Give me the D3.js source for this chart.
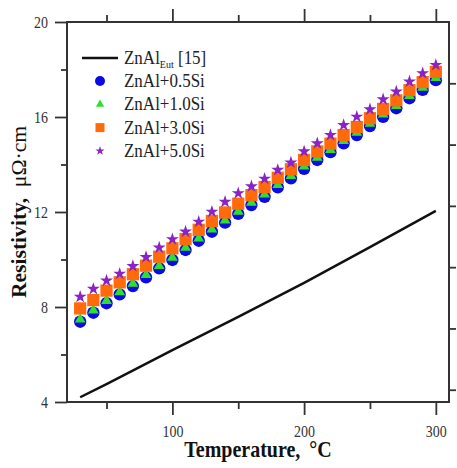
<!DOCTYPE html>
<html>
<head>
<meta charset="utf-8">
<script src="https://cdn.jsdelivr.net/npm/d3@7/dist/d3.min.js"></script>
<style>
body{margin:0;background:#fff;}
svg text{font-family:"Liberation Serif","Times New Roman",serif;}
</style>
</head>
<body>
<script>
// temperatures of the measured points (deg C)
let temps=[30,40,50,60,70,80,90,100,110,120,130,140,150,160,170,180,190,200,210,220,230,240,250,260,270,280,290,300];
// resistivity, micro-ohm cm
let si05=[7.38,7.76,8.16,8.53,8.88,9.25,9.63,9.98,10.40,10.79,11.17,11.55,11.92,12.29,12.64,13.04,13.42,13.82,14.19,14.52,14.89,15.24,15.62,16.01,16.37,16.79,17.14,17.55];
let si10=[7.48,7.86,8.26,8.63,8.98,9.35,9.73,10.08,10.50,10.89,11.27,11.65,12.02,12.39,12.74,13.14,13.52,13.92,14.29,14.62,14.99,15.34,15.72,16.11,16.47,16.89,17.24,17.65];
let si30=[7.94,8.29,8.69,9.04,9.38,9.74,10.12,10.47,10.86,11.25,11.62,11.98,12.35,12.71,13.05,13.44,13.80,14.19,14.55,14.88,15.24,15.58,15.95,16.34,16.70,17.13,17.47,17.90];
let si50=[8.43,8.76,9.11,9.40,9.72,10.10,10.50,10.85,11.17,11.59,12.01,12.43,12.79,13.08,13.40,13.77,14.08,14.55,14.89,15.24,15.66,16.01,16.32,16.74,17.07,17.49,17.84,18.19];
// eutectic reference curve [15]
let eutT=[30,50,100,150,200,250,300];
let eutR=[4.20,4.75,6.18,7.58,9.02,10.52,12.05];

let xMajor=[100,200,300],xMinor=[50,150,250];
let yMajor=[4,8,12,16,20],yMinor=[6,10,14,18];
let rightTicks=[0,1,2,3,4,5];

const W=457,H=468;
let m={l:67,r:449,t:22,b:402};
let x=d3.scaleLinear().domain([20,310]).range([m.l,m.r]);
let y=d3.scaleLinear().domain([4,20]).range([m.b,m.t]);
let y2=d3.scaleLinear().domain([-0.2,6]).range([m.b,m.t]);

let svg=d3.select("body").append("svg").attr("width",W).attr("height",H);

// the source picture is a bit taller than wide, so text gets stretched upright
function stretch(sel,k){
    sel.each(function(){
        let t=d3.select(this);
        let tx=+t.attr("x")||0,ty=+t.attr("y")||0;
        t.attr("x",0).attr("y",0).attr("transform",`translate(${tx},${ty}) scale(1,${k})`);
    });
}

// axes, ticks outward
let axisColor="#333";
function drawAxis(axis,tr){
    let g=svg.append("g").attr("transform",tr).call(axis)
        .attr("font-family","Liberation Serif").attr("font-size",14);
    g.select(".domain").remove();
    g.selectAll("line").attr("stroke",axisColor).attr("stroke-width",1.8);
    g.selectAll("text").attr("fill","#333");
    stretch(g.selectAll("text"),1.18);
    return g;
}
drawAxis(d3.axisBottom(x).tickValues(xMajor).tickSize(13).tickPadding(10).tickFormat(d3.format("d")),`translate(0,${m.b})`);
drawAxis(d3.axisBottom(x).tickValues(xMinor).tickSize(7).tickFormat(""),`translate(0,${m.b})`);
drawAxis(d3.axisTop(x).tickValues(xMajor).tickSize(13).tickFormat(""),`translate(0,${m.t})`);
drawAxis(d3.axisTop(x).tickValues(xMinor).tickSize(7).tickFormat(""),`translate(0,${m.t})`);
drawAxis(d3.axisLeft(y).tickValues(yMajor).tickSize(12).tickPadding(7).tickFormat(d3.format("d")),`translate(${m.l},0)`);
drawAxis(d3.axisLeft(y).tickValues(yMinor).tickSize(6).tickFormat(""),`translate(${m.l},0)`);
drawAxis(d3.axisRight(y2).tickValues(rightTicks).tickSize(7).tickFormat(""),`translate(${m.r},0)`);

svg.append("rect").attr("x",m.l).attr("y",m.t).attr("width",m.r-m.l).attr("height",m.b-m.t)
    .attr("fill","none").attr("stroke",axisColor).attr("stroke-width",2);

// eutectic line
let line=d3.line().x(d=>x(d[0])).y(d=>y(d[1]));
svg.append("path").datum(d3.zip(eutT,eutR)).attr("d",line)
    .attr("fill","none").attr("stroke","#111").attr("stroke-width",2.5);

let series=[
    {name:"ZnAl+0.5Si",vals:si05,type:d3.symbolCircle,size:120,lsize:78,color:"#0a0ae6"},
    {name:"ZnAl+1.0Si",vals:si10,type:d3.symbolTriangle,size:50,lsize:30,color:"#2ee02e"},
    {name:"ZnAl+3.0Si",vals:si30,type:d3.symbolSquare,size:150,lsize:81,color:"#ff6a0a"},
    {name:"ZnAl+5.0Si",vals:si50,type:d3.symbolStar,size:52,lsize:26,color:"#8a22c8"}
];
series.forEach(s=>{
    svg.append("g").selectAll("path").data(d3.zip(temps,s.vals)).enter().append("path")
        .attr("transform",d=>`translate(${x(d[0])},${y(d[1])})`)
        .attr("d",d3.symbol().type(s.type).size(s.size))
        .attr("fill",s.color);
});

// legend
let leg=svg.append("g").style("font-size","17px").attr("fill","#222");
leg.append("line").attr("x1",82).attr("x2",118).attr("y1",58).attr("y2",58)
    .attr("stroke","#111").attr("stroke-width",2.5);
let t0=leg.append("text").attr("x",124).attr("y",64);
t0.append("tspan").text("ZnAl");
t0.append("tspan").text("Eut").style("font-size","10px").attr("dy",4);
t0.append("tspan").text(" [15]").attr("dy",-4);
series.forEach((s,i)=>{
    let yy=81+i*23.3;
    leg.append("path").attr("transform",`translate(100,${yy})`)
        .attr("d",d3.symbol().type(s.type).size(s.lsize)).attr("fill",s.color);
    leg.append("text").attr("x",124).attr("y",yy+6).text(s.name);
});
stretch(leg.selectAll("text"),1.12);

// axis titles
let xt=svg.append("text").attr("x",(m.l+m.r)/2).attr("y",457).attr("text-anchor","middle")
    .style("font-size","20px").style("font-weight","bold").attr("fill","#111");
xt.append("tspan").text("Temperature,");
xt.append("tspan").text("\u00b0C").attr("dx",9);
stretch(xt,1.15);

let yt=svg.append("text").attr("transform",`translate(26,${(m.t+m.b)/2}) rotate(-90) scale(1.08,1)`)
    .attr("text-anchor","middle").style("font-size","20px").attr("fill","#111");
yt.append("tspan").text("Resistivity,").style("font-weight","bold");
yt.append("tspan").text("\u03bc\u03a9\u00b7cm").attr("dx",10);
</script>
</body>
</html>
